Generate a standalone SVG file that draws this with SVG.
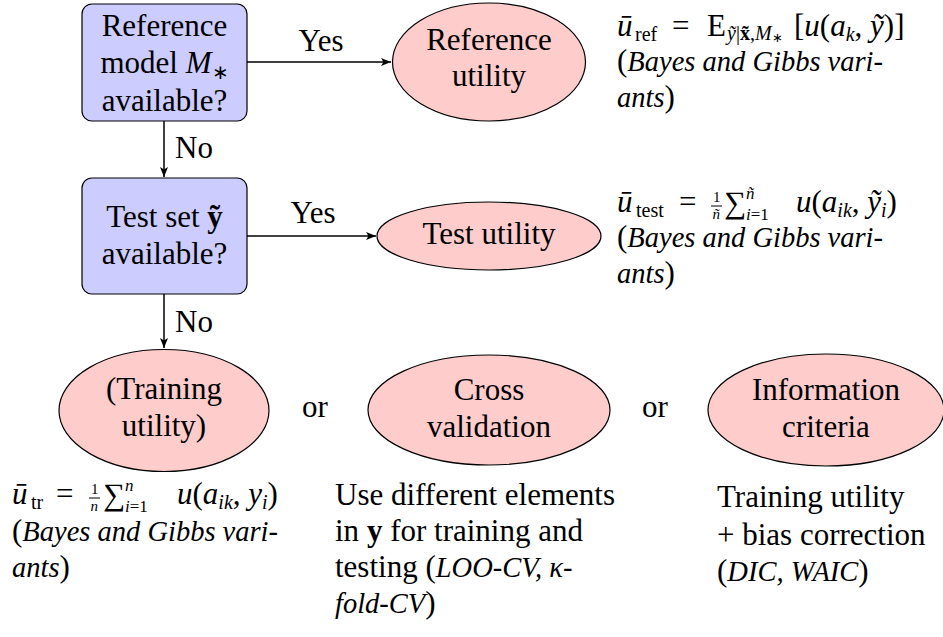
<svg xmlns="http://www.w3.org/2000/svg" width="943" height="637" viewBox="0 0 943 637">
  <style>
    .t { font-family: "Liberation Serif", serif; font-size: 31px; fill: #000; }
    .c { text-anchor: middle; }
    .i { font-style: italic; font-size: 28.5px; }
    .mi { font-style: italic; }
    .s { font-size: 20px; }
    .f { font-size: 15px; }
    .l { font-size: 17px; }
    .b { font-weight: bold; }
    .box { fill: #ccccff; stroke: #000; stroke-width: 1.2; }
    .ell { fill: #ffcccc; stroke: #000; stroke-width: 1.2; }
    .edge { fill: none; stroke: #000; stroke-width: 1.5; marker-end: url(#tip); }
    .bar { stroke: #000; stroke-width: 1; }
  </style>
  <defs>
    <marker id="tip" markerWidth="11" markerHeight="8" refX="10" refY="4" orient="auto" markerUnits="userSpaceOnUse">
      <path d="M0,0 L10,4 L0,8 L2.5,4 z" fill="#000"/>
    </marker>
  </defs>

  <rect width="943" height="637" fill="#fff"/>

  <!-- decision: reference model -->
  <g id="ref-model">
    <rect class="box" x="82" y="4" width="165" height="117" rx="10"/>
    <text class="t c" x="164.5" y="35.5">Reference</text>
    <text class="t c" x="164.5" y="73">model <tspan class="mi">M</tspan><tspan class="s" dy="6">∗</tspan></text>
    <text class="t c" x="164.5" y="110.5">available?</text>
  </g>

  <!-- decision: test set -->
  <g id="test-set">
    <rect class="box" x="82" y="178" width="165" height="116" rx="10"/>
    <text class="t c" x="164.5" y="227">Test set <tspan class="b">ỹ</tspan></text>
    <text class="t c" x="164.5" y="264">available?</text>
  </g>

  <!-- outcome nodes -->
  <g id="reference-utility">
    <ellipse class="ell" cx="489" cy="62" rx="96.5" ry="59"/>
    <text class="t c" x="489" y="50">Reference</text>
    <text class="t c" x="489" y="86">utility</text>
  </g>
  <g id="test-utility">
    <ellipse class="ell" cx="489" cy="236" rx="112" ry="34"/>
    <text class="t c" x="489" y="244">Test utility</text>
  </g>
  <g id="training-utility">
    <ellipse class="ell" cx="164" cy="410.5" rx="105" ry="61"/>
    <text class="t c" x="164" y="399">(Training</text>
    <text class="t c" x="164" y="436">utility)</text>
  </g>
  <g id="cross-validation">
    <ellipse class="ell" cx="489" cy="410" rx="121" ry="55"/>
    <text class="t c" x="489" y="400">Cross</text>
    <text class="t c" x="489" y="437">validation</text>
  </g>
  <g id="information-criteria">
    <ellipse class="ell" cx="826" cy="410" rx="118" ry="56"/>
    <text class="t c" x="826" y="400">Information</text>
    <text class="t c" x="826" y="437">criteria</text>
  </g>

  <!-- connectors -->
  <g id="connectors">
    <line class="edge" x1="247" y1="62" x2="391" y2="62"/>
    <line class="edge" x1="164" y1="121" x2="164" y2="177"/>
    <line class="edge" x1="247" y1="236" x2="376" y2="236"/>
    <line class="edge" x1="164" y1="294" x2="164" y2="348"/>
    <text class="t c" x="321" y="51">Yes</text>
    <text class="t" x="175" y="158">No</text>
    <text class="t c" x="313" y="223">Yes</text>
    <text class="t" x="175" y="332">No</text>
  </g>

  <!-- "or" separators -->
  <text class="t c" x="315" y="417">or</text>
  <text class="t c" x="655" y="417">or</text>

  <!-- annotation: reference utility -->
  <g id="note-ref">
    <text class="t" y="36"><tspan class="mi" x="617">ū</tspan><tspan class="s" x="635" dy="5">ref</tspan><tspan x="672" dy="-5">=</tspan><tspan x="707">E</tspan><tspan class="s" x="727" dy="4"><tspan class="mi">ỹ</tspan>|<tspan class="b">x̃</tspan>,<tspan class="mi">M</tspan><tspan font-size="13px" dy="2">∗</tspan></tspan><tspan x="794" dy="-6">[</tspan><tspan class="mi">u</tspan>(<tspan class="mi">a</tspan><tspan class="s mi" dy="5">k</tspan><tspan dy="-5">, </tspan><tspan class="mi">ỹ</tspan>)]</text>
    <text class="t" x="617" y="71">(<tspan class="i">Bayes and Gibbs vari-</tspan></text>
    <text class="t" x="617" y="107"><tspan class="i">ants</tspan>)</text>
  </g>

  <!-- annotation: test utility -->
  <g id="note-test">
    <line class="bar" x1="711" y1="206" x2="722" y2="206"/>
    <text class="t" y="212"><tspan class="mi" x="617">ū</tspan><tspan class="s" x="636" dy="5">test</tspan><tspan x="679" dy="-5">=</tspan><tspan class="f" x="713" dy="-10">1</tspan><tspan class="f mi" x="712.5" dy="17">ñ</tspan><tspan x="724" dy="-6">∑</tspan><tspan class="l mi" x="746" dy="-14">ñ</tspan><tspan class="l" x="746" dy="21"><tspan class="mi">i</tspan>=1</tspan><tspan class="mi" x="796" dy="-8">u</tspan>(<tspan class="mi">a</tspan><tspan class="s mi" dy="5">ik</tspan><tspan dy="-5">, </tspan><tspan class="mi">ỹ</tspan><tspan class="s mi" dy="5">i</tspan><tspan dy="-5">)</tspan></text>
    <text class="t" x="617" y="247">(<tspan class="i">Bayes and Gibbs vari-</tspan></text>
    <text class="t" x="617" y="283"><tspan class="i">ants</tspan>)</text>
  </g>

  <!-- annotation: training utility -->
  <g id="note-train">
    <line class="bar" x1="89" y1="498" x2="100" y2="498"/>
    <text class="t" y="504"><tspan class="mi" x="12">ū</tspan><tspan class="s" x="31" dy="5">tr</tspan><tspan x="56" dy="-5">=</tspan><tspan class="f" x="91" dy="-10">1</tspan><tspan class="f mi" x="90.5" dy="17">n</tspan><tspan x="103" dy="-6">∑</tspan><tspan class="l mi" x="125" dy="-14">n</tspan><tspan class="l" x="125" dy="21"><tspan class="mi">i</tspan>=1</tspan><tspan class="mi" x="177" dy="-8">u</tspan>(<tspan class="mi">a</tspan><tspan class="s mi" dy="5">ik</tspan><tspan dy="-5">, </tspan><tspan class="mi">y</tspan><tspan class="s mi" dy="5">i</tspan><tspan dy="-5">)</tspan></text>
    <text class="t" x="12" y="541">(<tspan class="i">Bayes and Gibbs vari-</tspan></text>
    <text class="t" x="12" y="577"><tspan class="i">ants</tspan>)</text>
  </g>

  <!-- annotation: cross validation -->
  <g id="note-cv">
    <text class="t" x="335" y="505">Use different elements</text>
    <text class="t" x="335" y="541">in <tspan class="b">y</tspan> for training and</text>
    <text class="t" x="335" y="577">testing (<tspan class="i">LOO-CV, κ-</tspan></text>
    <text class="t" x="335" y="613"><tspan class="i">fold-CV</tspan>)</text>
  </g>

  <!-- annotation: information criteria -->
  <g id="note-ic">
    <text class="t" x="717" y="507">Training utility</text>
    <text class="t" x="717" y="545">+ bias correction</text>
    <text class="t" x="717" y="581">(<tspan class="i">DIC, WAIC</tspan>)</text>
  </g>
</svg>
